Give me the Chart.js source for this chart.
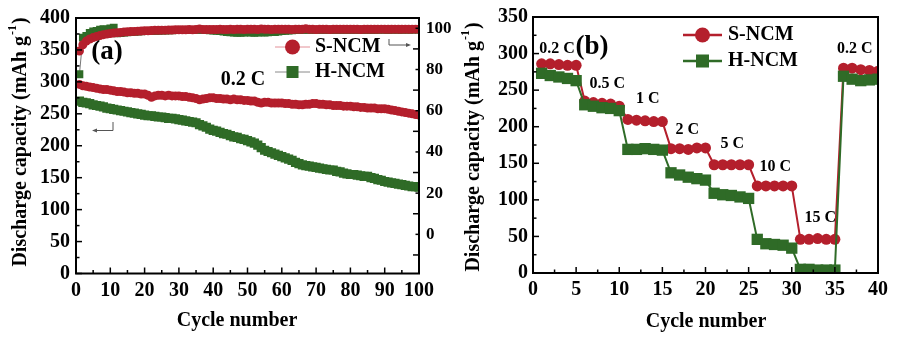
<!DOCTYPE html>
<html><head><meta charset="utf-8">
<script src="https://cdn.jsdelivr.net/npm/chart.js@4.4.1/dist/chart.umd.min.js"></script>
<style>
html,body{margin:0;padding:0;background:#fff;}
#wrap{position:relative;width:906px;height:346px;overflow:hidden;background:#fff;}
.box{position:absolute;top:0;width:453px;height:346px;}
#boxA{left:0;}
#boxB{left:453px;}
</style></head><body>
<div id="wrap"><div class="box" id="boxA"><canvas id="cA" width="453" height="346"></canvas></div><div class="box" id="boxB"><canvas id="cB" width="453" height="346"></canvas></div></div>
<script>
// ---------- Panel (a): cycling at 0.2 C ----------
const cyclesA = [1,2,3,4,5,6,7,8,9,10,11,12,13,14,15,16,17,18,19,20,21,22,23,24,25,26,27,28,29,30,31,32,33,34,35,36,37,38,39,40,41,42,43,44,45,46,47,48,49,50,51,52,53,54,55,56,57,58,59,60,61,62,63,64,65,66,67,68,69,70,71,72,73,74,75,76,77,78,79,80,81,82,83,84,85,86,87,88,89,90,91,92,93,94,95,96,97,98,99,100];
const capS_A = [296,294,293,292,291,290,289,288,288,287,
286,285,285,284,283,283,282,282,281,281,
279,276,278,279,279,278,279,278,278,278,
277,277,276,275,274,272,273,274,275,275,
274,274,273,273,272,273,272,272,271,271,
270,270,268,267,268,268,267,267,267,267,
266,266,265,265,264,264,265,265,266,266,
265,265,264,264,263,263,263,262,262,262,
261,261,260,260,259,259,259,258,258,258,
257,256,255,254,253,252,251,250,249,248];
const capH_A = [270,268,267,266,264,263,262,261,259,258,
257,256,255,254,253,252,251,250,249,248,
247,247,246,245,245,244,243,243,242,241,
240,239,238,237,236,233,231,229,226,224,
223,221,219,218,216,214,213,211,210,208,
206,204,201,197,193,191,189,187,185,183,
181,179,177,174,172,170,169,168,167,166,
165,164,163,162,162,160,159,157,156,155,
155,154,153,152,152,150,149,147,146,144,
143,142,141,140,139,138,137,136,136,135];
const ceS_A = [89.0,92.0,93.8,94.8,95.5,96.0,96.5,96.9,97.2,97.5,
97.7,97.9,98.0,98.2,98.3,98.4,98.5,98.6,98.7,98.8,
98.8,98.9,99.0,99.0,99.1,99.1,99.2,99.2,99.3,99.3,
99.3,99.3,99.4,99.3,99.4,99.7,99.4,99.4,99.4,99.4,
99.4,99.5,99.4,99.4,99.5,99.4,99.5,99.5,99.4,99.5,
99.5,99.5,99.4,99.7,99.5,99.5,99.4,99.5,99.5,99.5,
99.5,99.5,99.4,99.5,99.5,99.5,99.8,99.5,99.5,99.4,
99.5,99.5,99.5,99.4,99.5,99.5,99.5,99.5,99.5,99.5,
99.5,99.5,99.4,99.5,99.5,99.5,99.5,99.5,99.6,99.5,
99.5,99.5,99.6,99.5,99.5,99.6,99.5,99.6,99.6,99.6];
const ceH_A = [77.7,95.5,96.3,97.8,98.5,98.8,99.3,99.6,99.4,100.0,
100.3,97.6,97.7,97.9,98.0,98.2,98.3,98.4,98.5,98.6,
98.6,98.7,98.8,98.8,98.9,98.9,99.0,99.0,99.1,99.1,
99.1,99.1,99.2,99.1,99.2,99.3,99.2,99.1,99.0,98.9,
98.8,98.6,98.4,98.2,98.0,97.9,97.8,97.8,97.9,98.0,
97.9,97.8,97.9,98.0,97.9,98.0,98.1,98.2,98.4,98.6,
98.8,98.9,99.0,99.1,99.1,99.2,99.2,99.2,99.2,99.2,
99.2,99.3,99.2,99.2,99.3,99.2,99.3,99.3,99.3,99.3,
99.3,99.3,99.2,99.3,99.3,99.3,99.3,99.3,99.4,99.3,
99.3,99.3,99.4,99.3,99.3,99.4,99.3,99.4,99.4,99.4];
const xTicksA = [0,10,20,30,40,50,60,70,80,90,100];
const yTicksA = [0,50,100,150,200,250,300,350,400];
const ceTicksA = [0,20,40,60,80,100];

// ---------- Panel (b): rate capability ----------
const cyclesB = [1,2,3,4,5,6,7,8,9,10,11,12,13,14,15,16,17,18,19,20,21,22,23,24,25,26,27,28,29,30,31,32,33,34,35,36,37,38,39,40];
const capS_B = [286,286,285,284,284, 235,233,232,231,228, 210,209,208,207,207, 170,170,169,171,171, 148,148,148,148,148, 119,119,119,119,119, 46,46,47,46,46, 280,280,278,277,276];
const capH_B = [273,270,268,266,263, 230,228,226,225,222, 169,169,170,169,168, 137,134,131,129,127, 109,107,106,104,102, 46,40,39,38,34, 5,5,4,4,4, 269,265,263,264,265];
const rateLabels = ['0.2 C','0.5 C','1 C','2 C','5 C','10 C','15 C','0.2 C'];
const rateLabelX = [2.8, 8.6, 13.3, 17.9, 23.1, 28.1, 33.3, 37.3];
const rateLabelY = [307, 259, 238, 196, 176, 145, 75, 307];
const xTicksB = [0,5,10,15,20,25,30,35,40];
const yTicksB = [0,50,100,150,200,250,300,350];
const seriesNames = ['S-NCM','H-NCM'];

const FONT = '"Liberation Serif","Times New Roman",serif';
const RED = '#b41f2c', GREEN = '#2f6b27';
const pts = (xs, ys) => xs.map((x, i) => ({x: x, y: ys[i]}));

function yAxis(pos, min, max, tickArr, width, size, pad) {
  return {type:'linear', position:pos, min:min, max:max,
    afterBuildTicks: s => { s.ticks = tickArr.map(v => ({value:v})); },
    afterFit: s => { s.width = width; },
    ticks:{font:{family:FONT,size:size,weight:'bold'}, color:'#000', padding:pad, autoSkip:false},
    grid:{display:false, drawTicks:false}, border:{display:false}};
}
function xAxis(min, max, tickArr, height) {
  return {type:'linear', position:'bottom', min:min, max:max,
    afterBuildTicks: s => { s.ticks = tickArr.map(v => ({value:v})); },
    afterFit: s => { s.height = height; },
    ticks:{font:{family:FONT,size:20,weight:'bold'}, color:'#000', padding:5, autoSkip:false, maxRotation:0},
    grid:{display:false, drawTicks:false}, border:{display:false}};
}

function drawYTitle(ctx, cx, cy) {
  ctx.save();
  ctx.translate(cx, cy);
  ctx.rotate(-Math.PI/2);
  ctx.fillStyle = '#000';
  ctx.textBaseline = 'middle';
  ctx.textAlign = 'left';
  const main = 'Discharge capacity (mAh g';
  const sup = '-1';
  const end = ')';
  ctx.font = 'bold 20px ' + FONT;
  const w1 = ctx.measureText(main).width;
  const w3 = ctx.measureText(end).width;
  ctx.font = 'bold 12px ' + FONT;
  const w2 = ctx.measureText(sup).width;
  let x0 = -(w1 + w2 + w3 + 2) / 2;
  ctx.font = 'bold 20px ' + FONT;
  ctx.fillText(main, x0, 0);
  ctx.font = 'bold 12px ' + FONT;
  ctx.fillText(sup, x0 + w1 + 1, -8);
  ctx.font = 'bold 20px ' + FONT;
  ctx.fillText(end, x0 + w1 + w2 + 2, 0);
  ctx.restore();
}
function text(ctx, s, x, y, size, align) {
  ctx.save();
  ctx.font = 'bold ' + size + 'px ' + FONT;
  ctx.fillStyle = '#000';
  ctx.textAlign = align || 'center';
  ctx.textBaseline = 'middle';
  ctx.fillText(s, x, y);
  ctx.restore();
}
function tickMarks(ctx, scale, area, from, to, step, majorEvery, side) {
  ctx.save();
  ctx.strokeStyle = '#000';
  ctx.lineWidth = 1.5;
  let i = 0;
  for (let v = from; v <= to + 1e-9; v += step, i++) {
    const len = (i % majorEvery === 0) ? 6 : 3.5;
    const p = scale.getPixelForValue(v);
    ctx.beginPath();
    if (side === 'left') { ctx.moveTo(area.left, p); ctx.lineTo(area.left + len, p); }
    else if (side === 'right') { ctx.moveTo(area.right, p); ctx.lineTo(area.right - len, p); }
    else { ctx.moveTo(p, area.bottom); ctx.lineTo(p, area.bottom - len); }
    ctx.stroke();
  }
  ctx.restore();
}
function frame(ctx, a) {
  ctx.save();
  ctx.strokeStyle = '#000';
  ctx.lineWidth = 2;
  ctx.strokeRect(a.left, a.top, a.right - a.left, a.bottom - a.top);
  ctx.restore();
}
function legendItem(ctx, x1, x2, y, lineColor, lineW, color, style, r, label, tx) {
  ctx.save();
  ctx.strokeStyle = lineColor; ctx.lineWidth = lineW;
  ctx.beginPath(); ctx.moveTo(x1, y); ctx.lineTo(x2, y); ctx.stroke();
  ctx.fillStyle = color;
  const cx = (x1 + x2) / 2;
  if (style === 'circle') { ctx.beginPath(); ctx.arc(cx, y, r, 0, Math.PI*2); ctx.fill(); }
  else { ctx.fillRect(cx - r, y - r, 2*r, 2*r); }
  ctx.restore();
  text(ctx, label, tx, y, 20, 'left');
}
function arrow(ctx, pts2, dir) {
  ctx.save();
  ctx.strokeStyle = '#555'; ctx.fillStyle = '#555'; ctx.lineWidth = 1;
  ctx.beginPath(); ctx.moveTo(pts2[0][0], pts2[0][1]);
  for (let k = 1; k < pts2.length; k++) ctx.lineTo(pts2[k][0], pts2[k][1]);
  ctx.stroke();
  const [ex, ey] = pts2[pts2.length - 1];
  ctx.beginPath();
  ctx.moveTo(ex + dir*2, ey); ctx.lineTo(ex - dir*3, ey - 2); ctx.lineTo(ex - dir*3, ey + 2); ctx.closePath(); ctx.fill();
  ctx.restore();
}

const decorA = {id:'decorA', afterDraw(chart) {
  const ctx = chart.ctx, a = chart.chartArea, s = chart.scales;
  frame(ctx, a);
  tickMarks(ctx, s.y, a, 0, 400, 25, 2, 'left');
  tickMarks(ctx, s.yR, a, -10, 100, 10, 2, 'right');
  tickMarks(ctx, s.x, a, 0, 100, 5, 2, 'bottom');
  drawYTitle(ctx, 21, 142);
  text(ctx, 'Cycle number', 237, 321, 20);
  text(ctx, '(a)', 107, 52, 27);
  text(ctx, '0.2 C', 243, 80, 20);
  legendItem(ctx, 275, 310, 47, '#e39098', 1, RED, 'circle', 7.5, seriesNames[0], 315);
  legendItem(ctx, 275, 310, 72, '#8a8a8a', 1, GREEN, 'rect', 6, seriesNames[1], 315);
  arrow(ctx, [[389, 39], [389, 45], [409, 45]], 1);
  arrow(ctx, [[113, 122], [113, 130.5], [94, 130.5]], -1);
}};

const decorB = {id:'decorB', afterDraw(chart) {
  const ctx = chart.ctx, a = chart.chartArea, s = chart.scales;
  frame(ctx, a);
  tickMarks(ctx, s.y, a, 0, 350, 25, 2, 'left');
  tickMarks(ctx, s.x, a, 0, 40, 2.5, 2, 'bottom');
  drawYTitle(ctx, 21, 147);
  text(ctx, 'Cycle number', 253, 322, 20);
  text(ctx, '(b)', 139, 47, 27);
  rateLabels.forEach((t, i) => text(ctx, t, s.x.getPixelForValue(rateLabelX[i]), s.y.getPixelForValue(rateLabelY[i]), 16));
  legendItem(ctx, 230, 269, 35, RED, 2.5, RED, 'circle', 7.5, seriesNames[0], 275);
  legendItem(ctx, 230, 269, 61, GREEN, 2.5, GREEN, 'rect', 6.5, seriesNames[1], 275);
}};

new Chart(document.getElementById('cA'), {
  type:'line',
  data:{datasets:[
    {label:'S-NCM CE', data:pts(cyclesA, ceS_A), yAxisID:'yR', borderColor:RED, backgroundColor:RED, borderWidth:1, pointStyle:'circle', pointRadius:4.5, pointBorderWidth:0},
    {label:'H-NCM CE', data:pts(cyclesA, ceH_A), yAxisID:'yR', borderColor:'#777', backgroundColor:GREEN, borderWidth:1, pointStyle:'rect', pointRadius:5.5, pointBorderWidth:0},
    {label:'S-NCM', data:pts(cyclesA, capS_A), yAxisID:'y', borderColor:RED, backgroundColor:RED, borderWidth:1, pointStyle:'circle', pointRadius:4.5, pointBorderWidth:0},
    {label:'H-NCM', data:pts(cyclesA, capH_A), yAxisID:'y', borderColor:GREEN, backgroundColor:GREEN, borderWidth:1, pointStyle:'rect', pointRadius:6.5, pointBorderWidth:0}
  ]},
  options:{responsive:false, animation:false, devicePixelRatio:1,
    layout:{padding:{left:0, right:0, top:14, bottom:0}},
    plugins:{legend:{display:false}, tooltip:{enabled:false}},
    scales:{
      x: xAxis(0, 100, xTicksA, 72.5),
      y: yAxis('left', 0, 400, yTicksA, 76, 20, 6),
      yR: yAxis('right', -19, 105, ceTicksA, 34, 17, 7)
    }},
  plugins:[decorA]
});

new Chart(document.getElementById('cB'), {
  type:'line',
  data:{datasets:[
    {label:'H-NCM', data:pts(cyclesB, capH_B), borderColor:GREEN, backgroundColor:GREEN, borderWidth:2, pointStyle:'rect', pointRadius:8, pointBorderWidth:0},
    {label:'S-NCM', data:pts(cyclesB, capS_B), borderColor:RED, backgroundColor:RED, borderWidth:2, pointStyle:'circle', pointRadius:5.5, pointBorderWidth:0}
  ]},
  options:{responsive:false, animation:false, devicePixelRatio:1,
    layout:{padding:{left:0, right:28, top:14, bottom:0}},
    plugins:{legend:{display:false}, tooltip:{enabled:false}},
    scales:{
      x: xAxis(0, 40, xTicksB, 73),
      y: yAxis('left', 0, 350, yTicksB, 80, 20, 5)
    }},
  plugins:[decorB]
});
</script>
</body></html>
